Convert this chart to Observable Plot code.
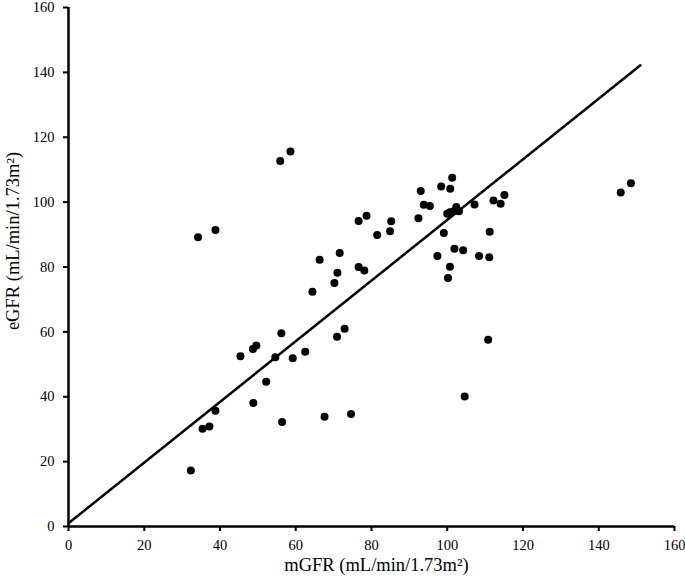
<!DOCTYPE html>
<html>
<head>
<meta charset="utf-8">
<script src="https://cdn.jsdelivr.net/npm/d3@7"></script>
<script src="https://cdn.jsdelivr.net/npm/@observablehq/plot@0.6"></script>
<style>
  html, body { margin: 0; padding: 0; background: #fff; }
</style>
</head>
<body>
<div id="chart"></div>
<script>
const mGFR = [32.3, 35.4, 37.2, 38.8, 34.2, 38.8, 55.9, 58.6,
  76.6, 78.7, 85.2, 81.5, 84.9, 66.3, 71.6, 76.6, 78.1, 71.0, 70.2, 64.4, 72.9, 56.2,
  45.4, 48.7, 49.6, 54.6, 59.2, 62.5, 70.9, 52.2, 48.8, 56.4, 67.6, 74.6,
  101.3, 98.4, 100.8, 93.0, 115.1, 112.2, 114.1, 93.8, 95.4, 107.2,
  102.4, 103.1, 101.7, 100.7, 100.0, 92.4, 99.1, 111.2, 97.4, 101.9, 104.2, 108.4, 111.1,
  100.7, 100.2, 110.8, 104.6, 148.5, 145.8];
const eGFR = [17.3, 30.1, 30.8, 35.7, 89.2, 91.4, 112.7, 115.6,
  94.2, 95.8, 94.1, 89.9, 91.0, 82.2, 84.3, 80.0, 78.9, 78.2, 75.1, 72.4, 61.0, 59.6,
  52.5, 54.7, 55.8, 52.2, 51.9, 53.9, 58.5, 44.6, 38.1, 32.2, 33.8, 34.7,
  107.5, 104.8, 104.1, 103.4, 102.2, 100.5, 99.5, 99.2, 98.8, 99.3,
  98.5, 97.2, 97.2, 96.9, 96.4, 95.0, 90.5, 90.9, 83.4, 85.6, 85.2, 83.4, 83.0,
  80.1, 76.6, 57.6, 40.1, 105.8, 103.0];
const fitX = [0, 151];
const fitY = [1, 142.2];
const ticks = [0, 20, 40, 60, 80, 100, 120, 140, 160];
const xTitle = "mGFR (mL/min/1.73m²)";
const yTitle = "eGFR (mL/min/1.73m²)";

const points = mGFR.map((x, i) => ({x, y: eGFR[i]}));
const fit = fitX.map((x, i) => ({x, y: fitY[i]}));

const chart = Plot.plot({
  width: 685,
  height: 578,
  marginLeft: 68,
  marginRight: 11,
  marginTop: 7,
  marginBottom: 52,
  style: {fontFamily: "'Liberation Serif', 'Times New Roman', serif", fontSize: "14.5px", color: "#000", background: "#fff"},
  x: {domain: [0, 160]},
  y: {domain: [0, 160]},
  marks: [
    Plot.axisX({ticks, tickSize: 5, tickPadding: 8, strokeWidth: 2, label: null}),
    Plot.axisY({ticks, tickSize: 5, tickPadding: 9, strokeWidth: 2, label: null}),
    Plot.ruleX([0], {stroke: "#000", strokeWidth: 2.5}),
    Plot.ruleY([0], {stroke: "#000", strokeWidth: 2.5}),
    Plot.line(fit, {x: "x", y: "y", stroke: "#000", strokeWidth: 2.5}),
    Plot.dot(points, {x: "x", y: "y", r: 4, fill: "#000", stroke: "none"}),
    Plot.text([xTitle], {frameAnchor: "bottom", textAnchor: "middle", dy: 44, dx: 5, fontSize: 18.5, text: d => d}),
    Plot.text([yTitle], {frameAnchor: "left", textAnchor: "middle", lineAnchor: "middle", dx: -55, dy: -26, rotate: -90, fontSize: 18.5, text: d => d})
  ]
});
document.getElementById("chart").appendChild(chart);
</script>
</body>
</html>
